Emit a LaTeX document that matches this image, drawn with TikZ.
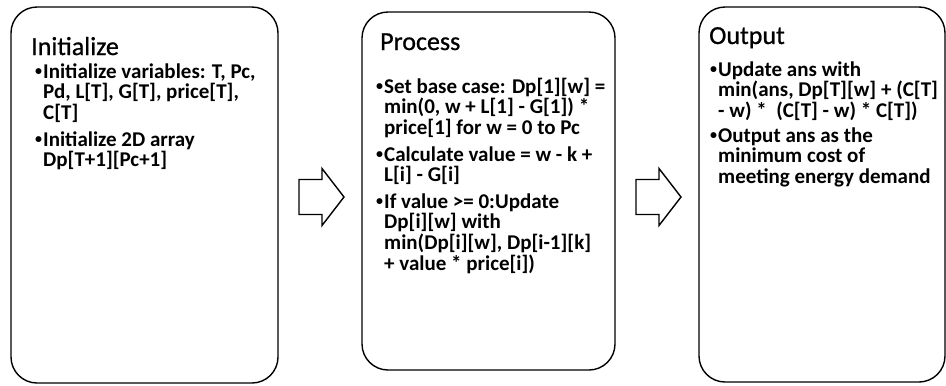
\documentclass[tikz,border=0pt]{standalone}
\usepackage{fontspec}
\setmainfont{Carlito}
\newfontfamily\titlefont[FakeBold=0.8]{Carlito}
\begin{document}
\begin{tikzpicture}[x=1bp,y=-1bp,
  stagebox/.style={draw=black, line width=1.4bp, rounded corners=26bp, fill=white, inner sep=0pt},
  blockarrow/.style={draw=black, line width=1.4bp, fill=white, line join=miter},
  stagetitle/.style={anchor=base west, inner sep=0pt, font=\titlefont\fontsize{26bp}{28bp}\selectfont},
  bullettext/.style={anchor=base west, inner sep=0pt,
    font=\fontsize{21bp}{20.8bp}\selectfont\bfseries}]
\useasboundingbox (0,0) rectangle (946,385);
% a bulleted paragraph whose baseline is its first line, small bullet hanging left
\newcommand\bdot{{\fontsize{14bp}{14bp}\selectfont\raisebox{2.2bp}{•}}}
\newcommand\bpar[1]{\parbox[t]{240bp}{\raggedright\leavevmode\llap{\bdot\hspace{1bp}}#1}}

% three stage boxes
\draw[stagebox] (11,7) rectangle (278,383);
\draw[stagebox] (362,12) rectangle (615,370);
\draw[stagebox] (699,7) rectangle (945,382);

% block arrows between the stages
\coordinate (a1) at (299,196.5);
\coordinate (a2) at (636,196.5);
\foreach \a in {a1,a2}
  \draw[blockarrow] (\a) ++(0,-17) -- ++(23,0) -- ++(0,-11) -- ++(22,28.5)
    -- ++(-22,28.5) -- ++(0,-11) -- ++(-23,0) -- cycle;

% Initialize
\node[stagetitle] (t1) at (31,55) {Initialize};
\node[bullettext] (b11) at (43,78) {\bpar{Initialize variables: T, Pc,\\Pd, L[T], G[T], price[T],\\C[T]}};
\node[bullettext] (b12) at (43,146) {\bpar{Initialize 2D array\\Dp[T+1][Pc+1]}};

% Process
\node[stagetitle] (t2) at (380,50) {Process};
\node[bullettext] (b21) at (384,93) {\bpar{Set base case: Dp[1][w] =\\min(0, w + L[1] - G[1]) *\\price[1] for w = 0 to Pc}};
\node[bullettext] (b22) at (384,161) {\bpar{Calculate value = w - k +\\L[i] - G[i]}};
\node[bullettext] (b23) at (384,208) {\bpar{If value >= 0:Update\\Dp[i][w] with\\min(Dp[i][w], Dp[i-1][k]\\+ value * price[i])}};

% Output
\node[stagetitle] (t3) at (709,44) {Output};
\node[bullettext] (b31) at (718,76) {\bpar{Update ans with\\min(ans, Dp[T][w] + (C[T]\\- w) *\ \ (C[T] - w) * C[T])}};
\node[bullettext] (b32) at (718,142) {\bpar{Output ans as the\\minimum cost of\\meeting energy demand}};
\end{tikzpicture}
\end{document}
